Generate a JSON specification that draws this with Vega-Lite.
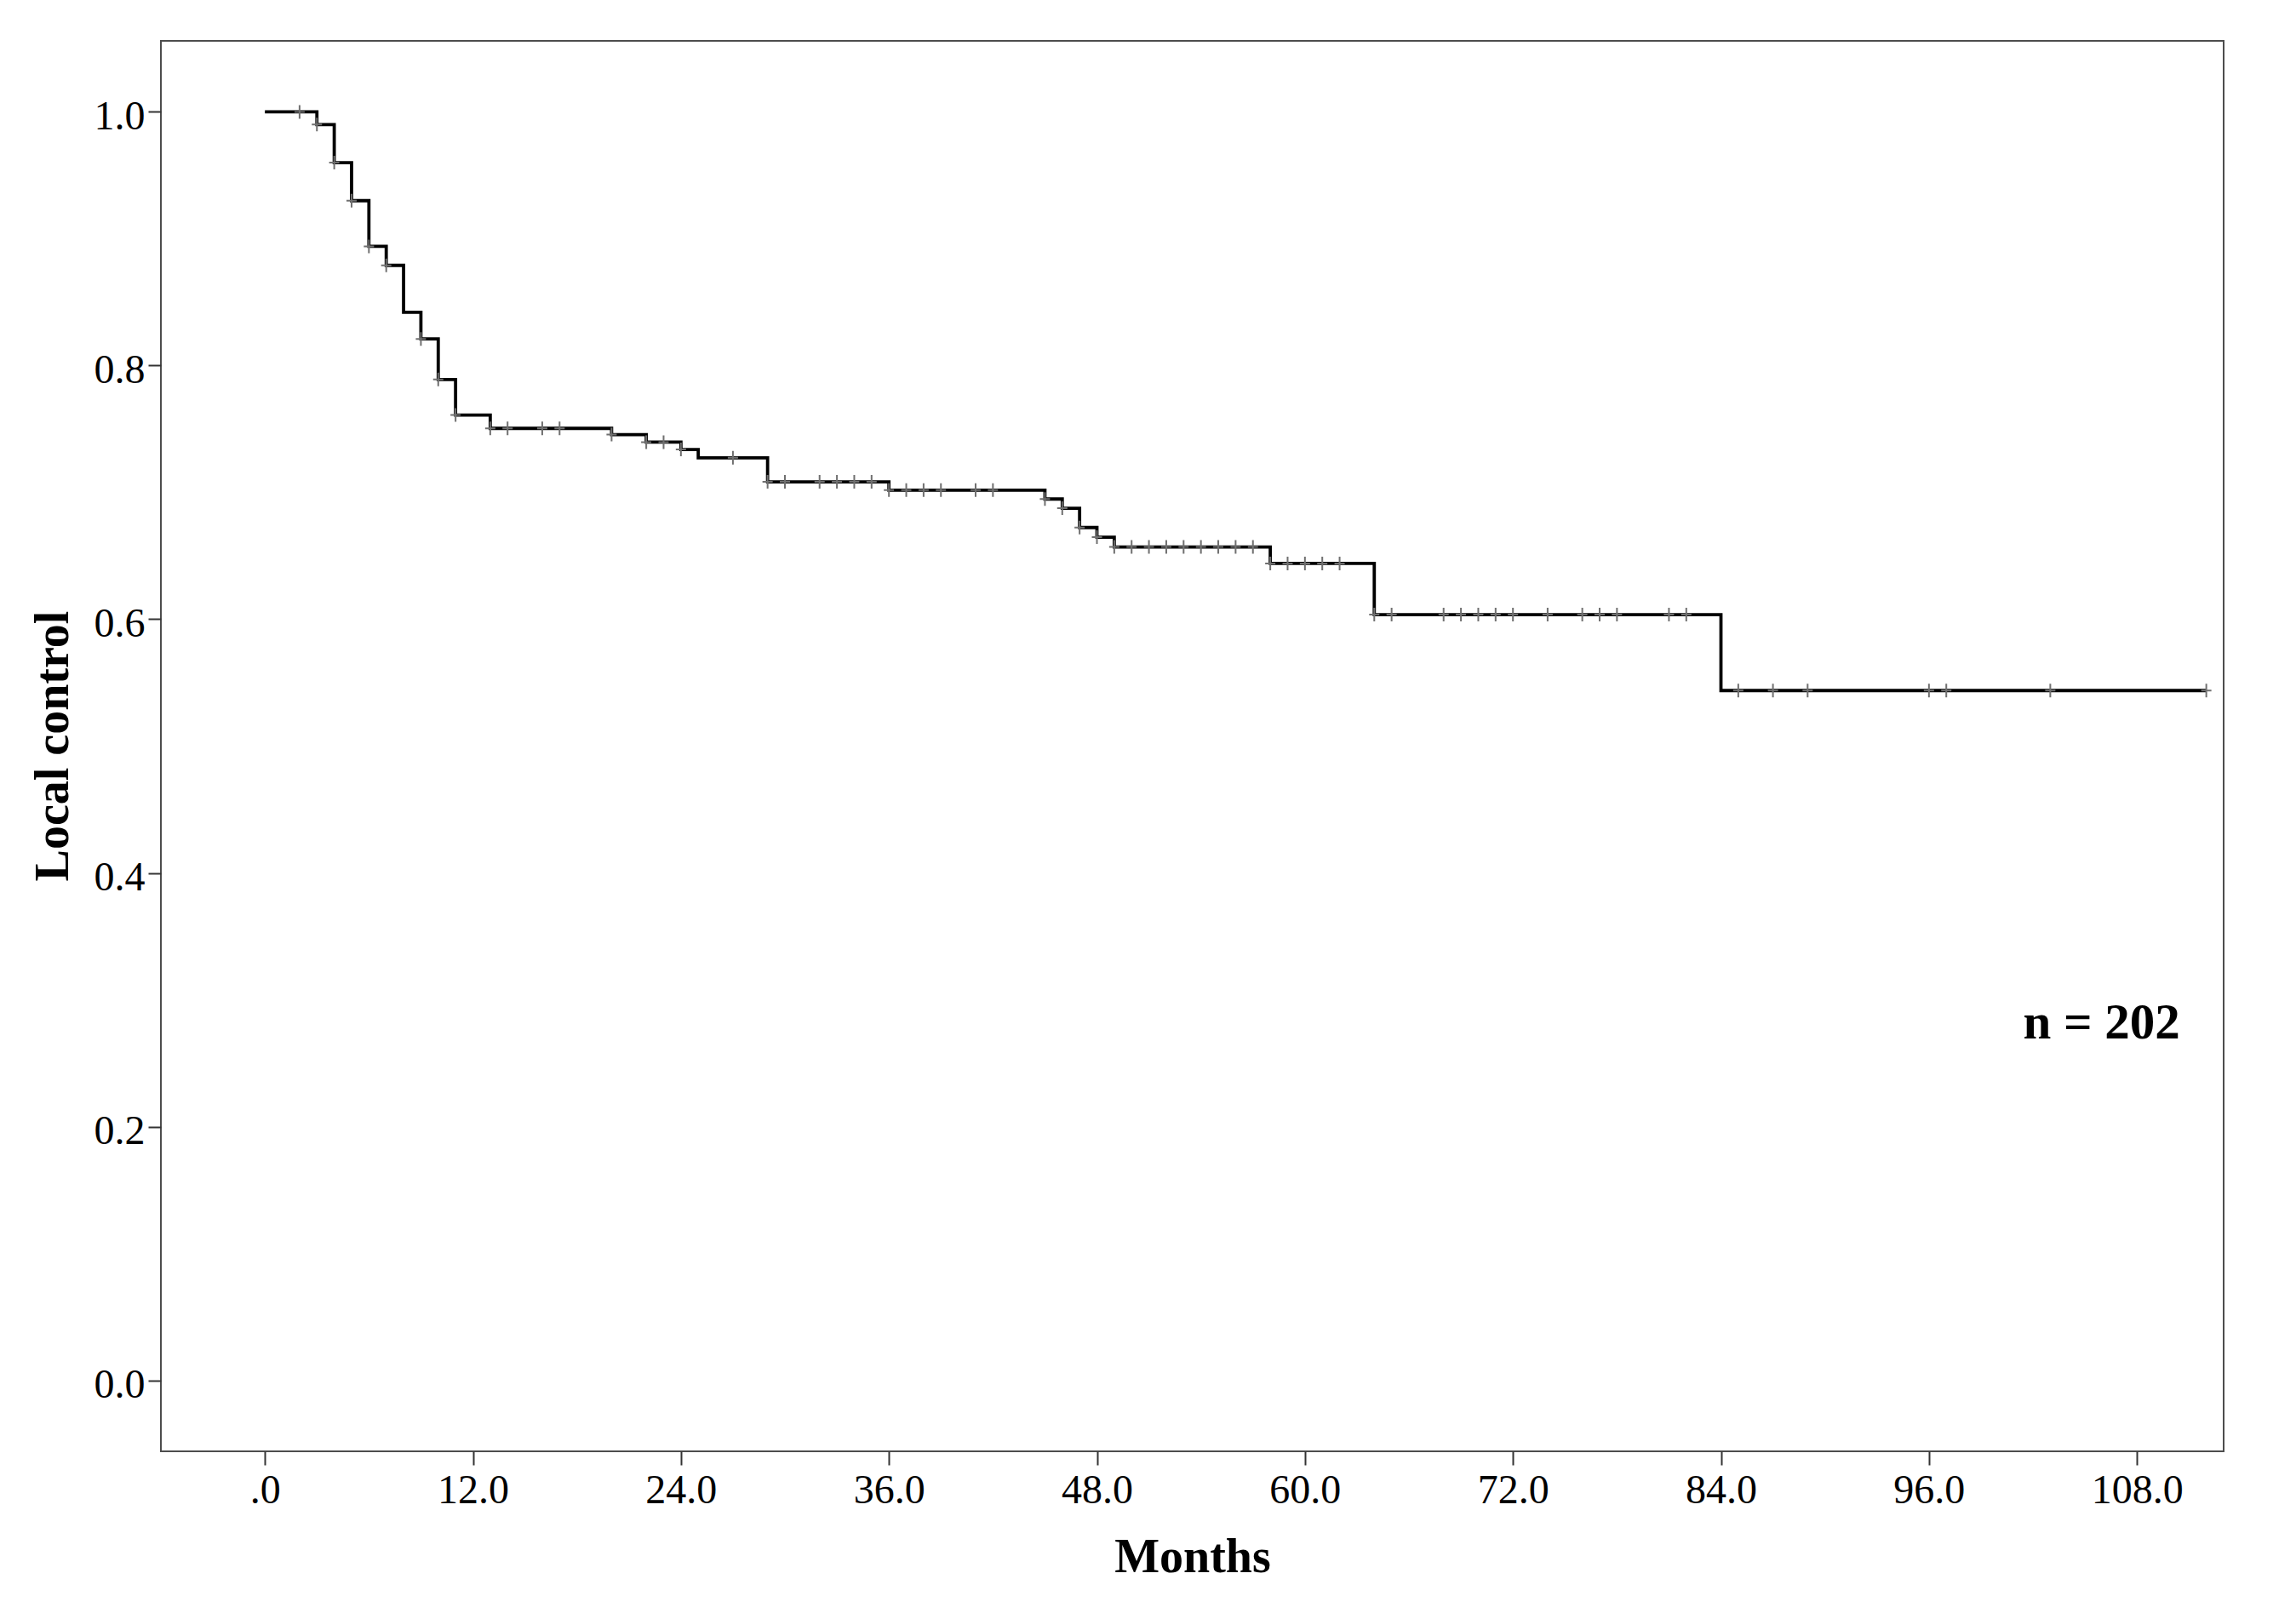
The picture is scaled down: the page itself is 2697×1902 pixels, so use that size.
{
  "$schema": "https://vega.github.io/schema/vega-lite/v6.json",
  "width": 2423,
  "height": 1657,
  "autosize": {"type": "none"},
  "padding": {"left": 189, "top": 48, "right": 85, "bottom": 197},
  "background": "white",
  "config": {
    "view": {"stroke": "#4d4d4d", "strokeWidth": 2},
    "font": "Liberation Serif"
  },
  "datasets": {
    "curve": [
      {"months": 0, "survival": 1.0},
      {"months": 3, "survival": 0.990},
      {"months": 4, "survival": 0.960},
      {"months": 5, "survival": 0.930},
      {"months": 6, "survival": 0.894},
      {"months": 7, "survival": 0.879},
      {"months": 8, "survival": 0.842},
      {"months": 9, "survival": 0.821},
      {"months": 10, "survival": 0.789},
      {"months": 11, "survival": 0.761},
      {"months": 13, "survival": 0.7505},
      {"months": 20, "survival": 0.7456},
      {"months": 22, "survival": 0.7396},
      {"months": 24, "survival": 0.7338},
      {"months": 25, "survival": 0.7273},
      {"months": 29, "survival": 0.7083},
      {"months": 36, "survival": 0.7018},
      {"months": 45, "survival": 0.6948},
      {"months": 46, "survival": 0.6875},
      {"months": 47, "survival": 0.6723},
      {"months": 48, "survival": 0.6647},
      {"months": 49, "survival": 0.657},
      {"months": 58, "survival": 0.644},
      {"months": 64, "survival": 0.6036},
      {"months": 84, "survival": 0.5438},
      {"months": 112, "survival": 0.5438}
    ],
    "censored": [
      {"months": 2, "survival": 1.0},
      {"months": 3, "survival": 0.990},
      {"months": 4, "survival": 0.960},
      {"months": 5, "survival": 0.930},
      {"months": 6, "survival": 0.894},
      {"months": 7, "survival": 0.879},
      {"months": 9, "survival": 0.821},
      {"months": 10, "survival": 0.789},
      {"months": 11, "survival": 0.761},
      {"months": 13, "survival": 0.7505},
      {"months": 14, "survival": 0.7505},
      {"months": 16, "survival": 0.7505},
      {"months": 17, "survival": 0.7505},
      {"months": 20, "survival": 0.7456},
      {"months": 22, "survival": 0.7396},
      {"months": 23, "survival": 0.7396},
      {"months": 24, "survival": 0.7338},
      {"months": 27, "survival": 0.7273},
      {"months": 29, "survival": 0.7083},
      {"months": 30, "survival": 0.7083},
      {"months": 32, "survival": 0.7083},
      {"months": 33, "survival": 0.7083},
      {"months": 34, "survival": 0.7083},
      {"months": 35, "survival": 0.7083},
      {"months": 36, "survival": 0.7018},
      {"months": 37, "survival": 0.7018},
      {"months": 38, "survival": 0.7018},
      {"months": 39, "survival": 0.7018},
      {"months": 41, "survival": 0.7018},
      {"months": 42, "survival": 0.7018},
      {"months": 45, "survival": 0.6948},
      {"months": 46, "survival": 0.6875},
      {"months": 47, "survival": 0.6723},
      {"months": 48, "survival": 0.6647},
      {"months": 49, "survival": 0.657},
      {"months": 50, "survival": 0.657},
      {"months": 51, "survival": 0.657},
      {"months": 52, "survival": 0.657},
      {"months": 53, "survival": 0.657},
      {"months": 54, "survival": 0.657},
      {"months": 55, "survival": 0.657},
      {"months": 56, "survival": 0.657},
      {"months": 57, "survival": 0.657},
      {"months": 58, "survival": 0.644},
      {"months": 59, "survival": 0.644},
      {"months": 60, "survival": 0.644},
      {"months": 61, "survival": 0.644},
      {"months": 62, "survival": 0.644},
      {"months": 64, "survival": 0.6036},
      {"months": 65, "survival": 0.6036},
      {"months": 68, "survival": 0.6036},
      {"months": 69, "survival": 0.6036},
      {"months": 70, "survival": 0.6036},
      {"months": 71, "survival": 0.6036},
      {"months": 72, "survival": 0.6036},
      {"months": 74, "survival": 0.6036},
      {"months": 76, "survival": 0.6036},
      {"months": 77, "survival": 0.6036},
      {"months": 78, "survival": 0.6036},
      {"months": 81, "survival": 0.6036},
      {"months": 82, "survival": 0.6036},
      {"months": 85, "survival": 0.5438},
      {"months": 87, "survival": 0.5438},
      {"months": 89, "survival": 0.5438},
      {"months": 96, "survival": 0.5438},
      {"months": 97, "survival": 0.5438},
      {"months": 103, "survival": 0.5438},
      {"months": 112, "survival": 0.5438}
    ],
    "note": [{"label": "n = 202", "months": 105.96, "survival": 0.2698}]
  },
  "encoding": {
    "x": {
      "field": "months",
      "type": "quantitative",
      "scale": {"domain": [-6, 113], "nice": false, "zero": false},
      "axis": {
        "values": [0, 12, 24, 36, 48, 60, 72, 84, 96, 108],
        "labelExpr": "datum.value == 0 ? '.0' : format(datum.value, '.1f')",
        "title": "Months",
        "titleFont": "Liberation Serif",
        "titleFontSize": 56,
        "titleFontWeight": "bold",
        "titleColor": "black",
        "titleY": 141,
        "titleBaseline": "alphabetic",
        "labelFont": "Liberation Serif",
        "labelFontSize": 48,
        "labelColor": "black",
        "labelPadding": 6,
        "labelFlush": false,
        "labelOverlap": false,
        "tickSize": 16,
        "tickWidth": 2,
        "tickColor": "#333333",
        "domain": false,
        "grid": false
      }
    },
    "y": {
      "field": "survival",
      "type": "quantitative",
      "scale": {"domain": [-0.056, 1.056], "nice": false, "zero": false},
      "axis": {
        "values": [0, 0.2, 0.4, 0.6, 0.8, 1.0],
        "format": ".1f",
        "title": "Local control",
        "titleFont": "Liberation Serif",
        "titleFontSize": 56,
        "titleFontWeight": "bold",
        "titleColor": "black",
        "titleX": -127,
        "titleY": 828,
        "titleAngle": -90,
        "titleBaseline": "middle",
        "labelFont": "Liberation Serif",
        "labelFontSize": 48,
        "labelColor": "black",
        "labelPadding": 4,
        "labelOffset": 6,
        "labelFlush": false,
        "labelOverlap": false,
        "tickSize": 15,
        "tickWidth": 2,
        "tickColor": "#333333",
        "domain": false,
        "grid": false
      }
    }
  },
  "layer": [
    {
      "data": {"name": "curve"},
      "mark": {"type": "line", "interpolate": "step-after", "color": "black", "strokeWidth": 3.8}
    },
    {
      "data": {"name": "censored"},
      "mark": {
        "type": "point",
        "shape": "M-0.75,0H0.75M0,-1V1",
        "filled": false,
        "stroke": "#707070",
        "strokeWidth": 2,
        "size": 256,
        "opacity": 1
      }
    },
    {
      "data": {"name": "note"},
      "mark": {
        "type": "text",
        "font": "Liberation Serif",
        "fontSize": 59,
        "fontWeight": "bold",
        "fill": "black",
        "align": "center",
        "baseline": "alphabetic"
      },
      "encoding": {
        "text": {"field": "label", "type": "nominal"}
      }
    }
  ]
}
